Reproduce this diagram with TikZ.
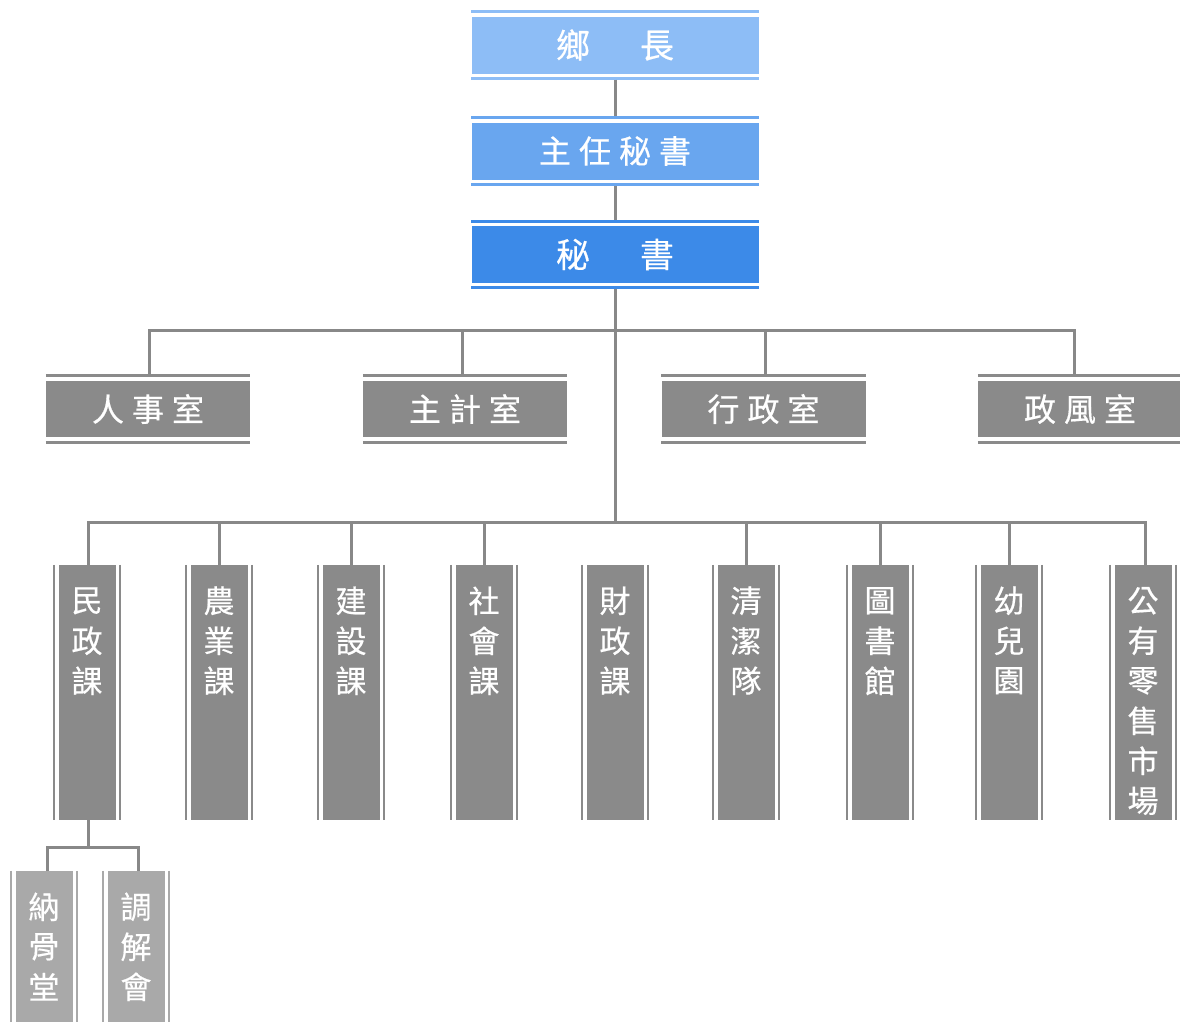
\documentclass[tikz,border=0pt]{standalone}
\usepackage{fontspec}
\newfontfamily\cjk[FakeBold=0.5]{Noto Sans CJK TC}
\definecolor{blueA}{HTML}{8DBDF6}
\definecolor{blueB}{HTML}{69A6EF}
\definecolor{blueC}{HTML}{3C8AE8}
\definecolor{grayA}{HTML}{8A8A8A}
\definecolor{grayB}{HTML}{A9A9A9}
\definecolor{linecol}{HTML}{888888}
\tikzset{
  conn/.style={draw=linecol, line width=3pt},
  topbox/.style={fill=#1, minimum width=287pt, minimum height=57pt, inner sep=0pt, text=white, font=\cjk\fontsize{32}{32}\selectfont},
  offbox/.style={fill=grayA, minimum width=204pt, minimum height=56pt, inner sep=0pt, text=white, font=\cjk\fontsize{32}{32}\selectfont},
  vbox/.style={minimum width=57pt, inner sep=0pt},
  vch/.style={text=white, inner sep=0pt, font=\cjk\fontsize{31}{31}\selectfont},
}
\newcommand\lsp{\hspace{8pt}}
\newcommand\hstripes[3]{%
  \draw[#2, line width=3pt] ([yshift=#3]#1.north west) -- ([yshift=#3]#1.north east)
    ([yshift=-#3]#1.south west) -- ([yshift=-#3]#1.south east);}
\newcommand\vstripes[2]{%
  \draw[#2, line width=2.5pt] ([xshift=-4.5pt]#1.north west) -- ([xshift=-4.5pt]#1.south west)
    ([xshift=4.5pt]#1.north east) -- ([xshift=4.5pt]#1.south east);}
\newcommand\vunit[6]{%
  \node[vbox, fill=#5, minimum height=#4] (#1) at (#2,#3) {};
  \vstripes{#1}{#5}
  \foreach \c [count=\i] in {#6} {\node[vch] (#1c\i) at ([yshift={-36-40*(\i-1)}]#1.north) {\c};}
}
\begin{document}
\begin{tikzpicture}[x=1pt,y=-1pt]
\useasboundingbox (0,0) rectangle (1180,1021);
\fill[white] (0,0) rectangle (1180,1021);

% top chain
\node[topbox=blueA, font=\cjk\fontsize{34}{34}\selectfont] (xz) at (615,45) {鄉\hspace{50pt}長};
\hstripes{xz}{blueA}{4.5pt}
\node[topbox=blueB] (zr) at (615,151) {主\lsp 任\lsp 秘\lsp 書};
\hstripes{zr}{blueB}{4.5pt}
\node[topbox=blueC, font=\cjk\fontsize{34}{34}\selectfont] (ms) at (615,254.5) {秘\hspace{50pt}書};
\hstripes{ms}{blueC}{4.5pt}

% offices
\node[offbox] (rs) at (148,409) {人\lsp 事\lsp 室};
\hstripes{rs}{grayA}{5pt}
\node[offbox] (zj) at (465,409) {主\lsp 計\lsp 室};
\hstripes{zj}{grayA}{5pt}
\node[offbox] (xs) at (763.5,409) {行\lsp 政\lsp 室};
\hstripes{xs}{grayA}{5pt}
\node[offbox] (zf) at (1080,409) {政\lsp 風\lsp 室};
\hstripes{zf}{grayA}{5pt}

% departments
\vunit{v1}{87}{692.5}{255pt}{grayA}{民,政,課}
\vunit{v2}{219}{692.5}{255pt}{grayA}{農,業,課}
\vunit{v3}{351}{692.5}{255pt}{grayA}{建,設,課}
\vunit{v4}{484}{692.5}{255pt}{grayA}{社,會,課}
\vunit{v5}{615}{692.5}{255pt}{grayA}{財,政,課}
\vunit{v6}{746}{692.5}{255pt}{grayA}{清,潔,隊}
\vunit{v7}{880}{692.5}{255pt}{grayA}{圖,書,館}
\vunit{v8}{1009}{692.5}{255pt}{grayA}{幼,兒,園}
\vunit{v9}{1143}{692.5}{255pt}{grayA}{公,有,零,售,市,場}

% sub units
\vunit{s1}{44}{951}{160pt}{grayB}{納,骨,堂}
\vunit{s2}{136}{951}{160pt}{grayB}{調,解,會}

% connectors
\coordinate (j1) at (615,330.5);
\coordinate (j2) at (615,522);
\coordinate (j3) at (88,847);
\draw[conn] ([yshift=-6pt]xz.south) -- ([yshift=6pt]zr.north);
\draw[conn] ([yshift=-6pt]zr.south) -- ([yshift=6pt]ms.north);
\draw[conn] ([yshift=-6pt]ms.south) -- (j2);
\draw[conn] ([xshift=1pt,yshift=6.5pt]rs.north) |- (j1) -| ([xshift=-6pt,yshift=6.5pt]zf.north);
\draw[conn] ([xshift=-3pt,yshift=6.5pt]zj.north) -- ([xshift=-3pt]zj.north |- j1);
\draw[conn] ([xshift=1.5pt,yshift=6.5pt]xs.north) -- ([xshift=1.5pt]xs.north |- j1);
\draw[conn] ([xshift=1pt]v1.north) |- (j2) -| ([xshift=2pt]v9.north);
\foreach \n in {v2,v3,v4,v6,v7,v8} {\draw[conn] (\n.north) -- (\n.north |- j2);}
\draw[conn] ([xshift=1pt]v1.south) -- (j3);
\draw[conn] ([xshift=3pt]s1.north) |- (j3) -| ([xshift=2pt]s2.north);
\end{tikzpicture}
\end{document}
